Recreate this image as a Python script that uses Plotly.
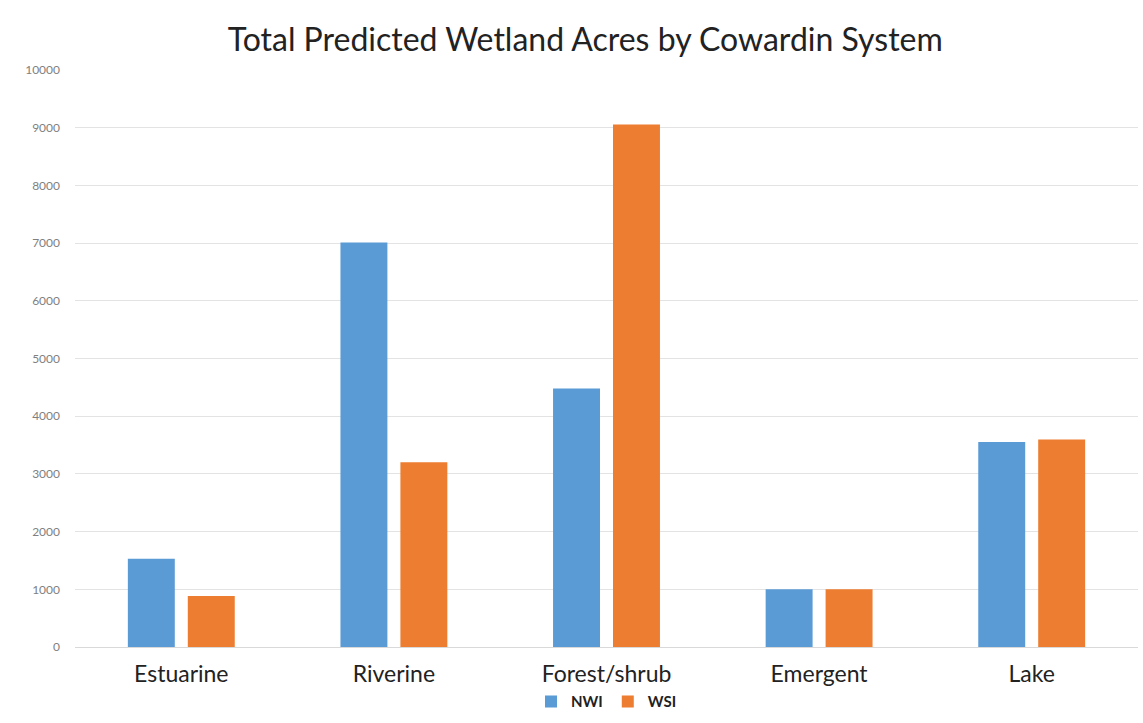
import plotly.graph_objects as go

categories = ["Estuarine", "Riverine", "Forest/shrub", "Emergent", "Lake"]
nwi = [1530, 7010, 4480, 1000, 3555]
wsi = [885, 3200, 9055, 1000, 3595]
y_ticks = [0, 1000, 2000, 3000, 4000, 5000, 6000, 7000, 8000, 9000, 10000]
y_tick_labels = [str(v) for v in y_ticks]

FONT = "Lato"

fig = go.Figure()
fig.add_trace(go.Bar(name="NWI", x=categories, y=nwi, marker=dict(color="#5B9BD5", line=dict(width=0))))
fig.add_trace(go.Bar(name="WSI", x=categories, y=wsi, marker=dict(color="#ED7D31", line=dict(width=0))))

fig.update_layout(
    width=1143, height=723,
    margin=dict(l=75, r=5, t=70, b=76),
    paper_bgcolor="white", plot_bgcolor="white",
    barmode="group", bargap=0.436, bargroupgap=0.217,
    title=dict(text="Total Predicted Wetland Acres by Cowardin System",
               x=0.512, xref="container", xanchor="center",
               y=0.945, yref="container", yanchor="middle",
               font=dict(family=FONT, size=32, color="#222222")),
    font=dict(family=FONT),
    showlegend=True,
    legend=dict(orientation="h", x=0.5, xanchor="center", y=-0.095, yanchor="middle",
                font=dict(family=FONT, size=15, color="#222222", weight="bold"),
                itemwidth=30, traceorder="normal"),
)
fig.update_xaxes(showgrid=False, showline=True, linecolor="#d9d9d9", linewidth=1,
                 ticks="", ticklabelstandoff=6,
                 tickfont=dict(family=FONT, size=23, color="#222222"))
fig.update_yaxes(range=[0, 10000], tickvals=y_ticks, ticktext=y_tick_labels,
                 showgrid=True, gridcolor="#e3e3e3",
                 gridwidth=1, zeroline=False, showline=False, ticks="",
                 ticklabelstandoff=14,
                 tickfont=dict(family=FONT, size=12, color="#7f7f7f"))

fig.write_html("out.html")
